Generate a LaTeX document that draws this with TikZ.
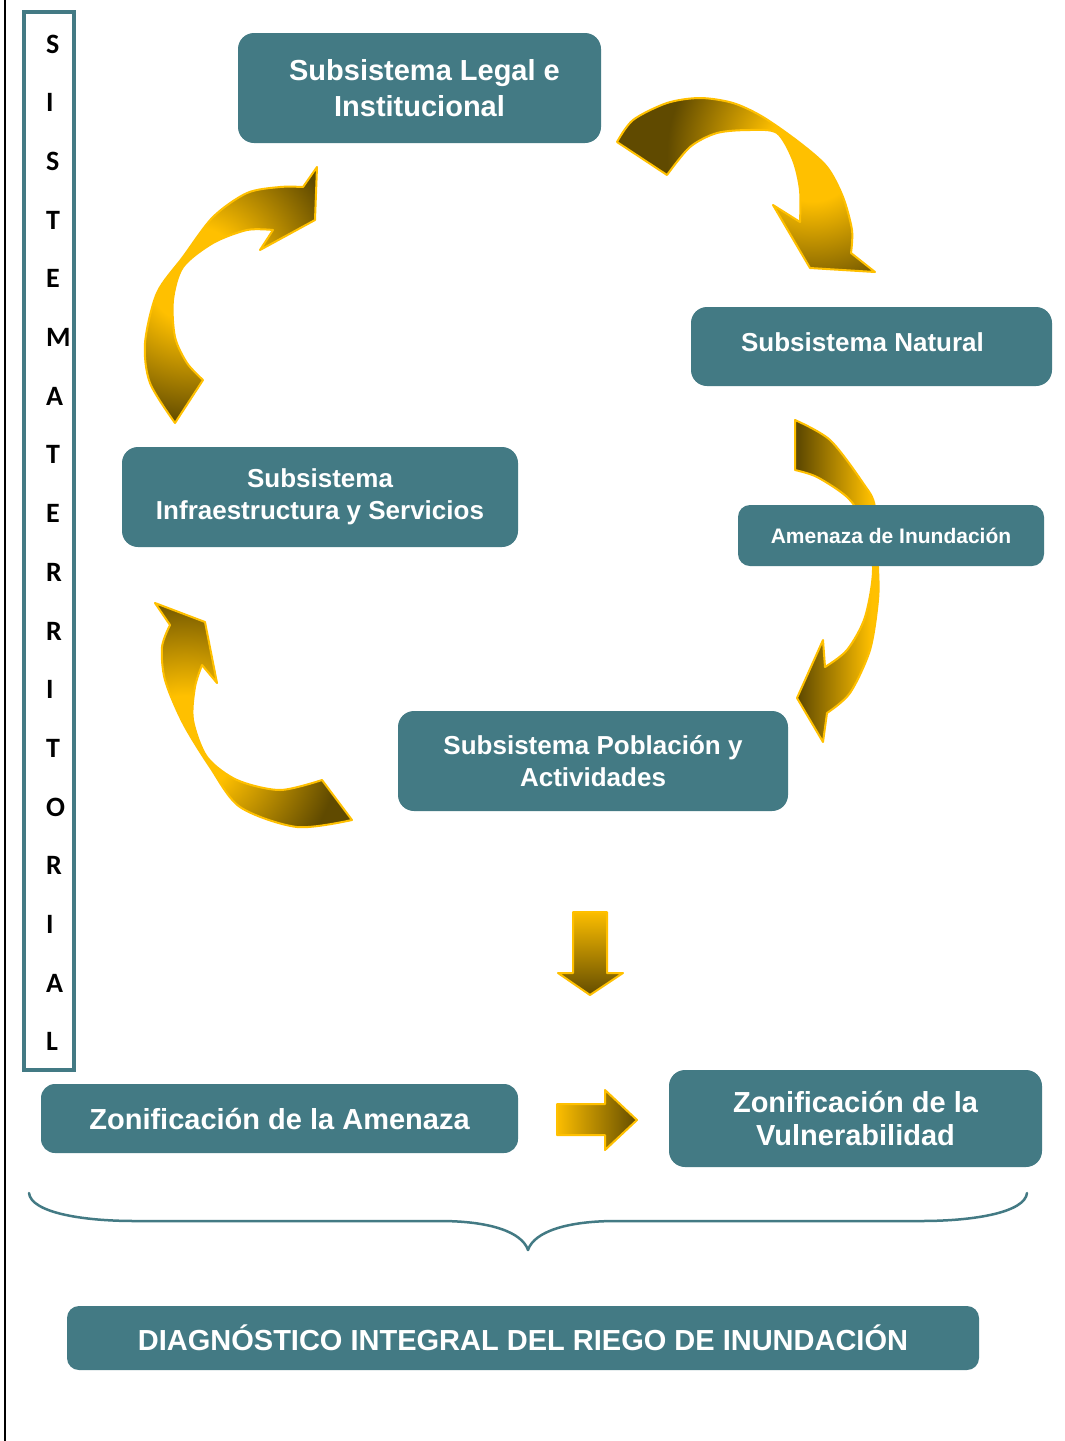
\documentclass[tikz,border=0pt]{standalone}
\usepackage{fontspec}
\setmainfont{Liberation Sans}
\newfontfamily\carlito{Carlito}
\definecolor{boxteal}{HTML}{437A84}
\definecolor{arrowgold}{HTML}{FFC000}
\definecolor{arrowdark}{RGB}{96,74,0}
\pgfdeclareradialshading{goldrad}{\pgfpoint{0bp}{0bp}}{color(0bp)=(arrowgold); color(4bp)=(arrowgold); color(12.5bp)=(arrowdark); color(50bp)=(arrowdark)}
\pgfdeclarehorizontalshading{darkgoldh}{100bp}{color(0bp)=(arrowdark); color(36bp)=(arrowdark); color(64bp)=(arrowgold); color(100bp)=(arrowgold)}
\begin{document}
\begin{tikzpicture}[x=1pt,y=-1pt,
  box/.style={fill=boxteal, rounded corners=16pt, text=white, align=center, inner sep=0pt},
  goldarrow/.style={draw=arrowgold, line width=2pt, line join=round},
  vletter/.style={anchor=west, inner sep=0pt, font=\carlito\bfseries\fontsize{28}{28}\selectfont},
]
\useasboundingbox (0,0) rectangle (1065,1441);
\fill[white] (0,0) rectangle (1065,1441);

% black vertical line at the left edge
\draw[line width=2.5pt] (5,0) -- (5,1441);

% vertical SISTEMA TERRITORIAL box
\draw[boxteal, line width=3.3pt, fill=white] (24,12) rectangle (74,1070);
\foreach \l [count=\i from 0] in {S,I,S,T,E,M,A,T,E,R,R,I,T,O,R,I,A,L}
  \node[vletter] (v\i) at (46,{44+58.7*\i}) {\l};

% ---- curved arrows ----
% Legal -> Natural
\draw[goldarrow, path picture={\shade[shading=goldrad] (812,155) circle (290pt);}]
 (617,142) -- plot[smooth] coordinates {(617,142) (633,120) (667,103) (700,98) (733,103) (763,117) (800,143) (827,167) (843,197) (852,230) (851,253)}
 -- (875,272) -- (810,268) -- (773,205) -- (800,222)
 -- plot[smooth] coordinates {(800,222) (800,190) (793,160) (777,133) (750,130) (717,133) (690,147) (667,175)}
 -- cycle;

% Natural -> Poblacion (behind Amenaza box)
\draw[goldarrow, path picture={\shade[shading=darkgoldh] (770,410) rectangle (900,750);}]
 (795,420) -- plot[smooth] coordinates {(795,420) (830,440) (863,483) (875,507) (878,567) (878,600) (870,650) (850,693) (827,713)}
 -- (823,742) -- (797,698) -- (823,640) -- (825,667)
 -- plot[smooth] coordinates {(825,667) (847,650) (865,617) (873,567) (862,520) (847,497) (817,477) (795,470)}
 -- cycle;

% Poblacion -> Infraestructura
\draw[goldarrow, path picture={\shade[shading=goldrad] (185,745) circle (310pt);}]
 (352,820) -- plot[smooth] coordinates {(352,820) (297,827) (240,807) (210,767) (183,723) (165,680) (162,647) (170,625)}
 -- (155,603) -- (205,622) -- (217,683) -- (202,665)
 -- plot[smooth] coordinates {(202,665) (195,687) (193,720) (207,757) (237,780) (280,790) (322,780)}
 -- cycle;

% Infraestructura -> Legal
\draw[goldarrow, path picture={\shade[shading=goldrad] (195,275) circle (300pt);}]
 (175,423) -- plot[smooth] coordinates {(175,423) (150,383) (145,343) (157,293) (183,257) (213,217) (247,193) (280,187) (303,187)}
 -- (317,167) -- (315,220) -- (260,250) -- (273,230)
 -- plot[smooth] coordinates {(273,230) (247,230) (213,243) (183,267) (173,300) (175,337) (187,363) (203,380)}
 -- cycle;

% ---- straight arrows ----
\draw[goldarrow, path picture={\shade[top color=arrowgold, bottom color=arrowdark] (550,910) rectangle (630,997);}]
 (573,912) -- (607,912) -- (607,973) -- (623,973) -- (590,995) -- (558,973) -- (573,973) -- cycle;
\draw[goldarrow, path picture={\shade[left color=arrowgold, right color=arrowdark] (555,1085) rectangle (639,1155);}]
 (557,1104) -- (605,1104) -- (605,1090) -- (637,1120) -- (605,1150) -- (605,1135) -- (557,1135) -- cycle;

% ---- boxes ----
\node[box, minimum width=363pt, minimum height=110pt, font=\bfseries\fontsize{29}{36}\selectfont] (legal) at (419.5,88)
  {\hspace*{10pt}Subsistema Legal e\\Institucional};
\node[box, minimum width=361pt, minimum height=79pt, font=\bfseries\fontsize{26}{32}\selectfont] (natural) at (871.5,346.5)
  {\raisebox{8pt}{Subsistema Natural\hspace*{18pt}}};
\node[box, minimum width=396pt, minimum height=100pt, font=\bfseries\fontsize{26}{32}\selectfont] (infra) at (320,497)
  {Subsistema\\Infraestructura y Servicios};
\node[box, rounded corners=12pt, minimum width=306pt, minimum height=61pt, font=\bfseries\fontsize{21}{25}\selectfont] (amenaza) at (891,535.5)
  {Amenaza de Inundación};
\node[box, minimum width=390pt, minimum height=100pt, font=\bfseries\fontsize{26}{32}\selectfont] (poblacion) at (593,761)
  {Subsistema Población y\\Actividades};
\node[box, rounded corners=14pt, minimum width=477pt, minimum height=69pt, font=\bfseries\fontsize{29}{33}\selectfont] (zonA) at (279.5,1118.5)
  {Zonificación de la Amenaza};
\node[box, minimum width=373pt, minimum height=97pt, font=\bfseries\fontsize{29}{33}\selectfont] (zonV) at (855.5,1118.5)
  {Zonificación de la\\Vulnerabilidad};
\node[box, rounded corners=12pt, minimum width=912pt, minimum height=64pt, font=\bfseries\fontsize{29}{33}\selectfont] (diag) at (523,1338)
  {DIAGNÓSTICO INTEGRAL DEL RIEGO DE INUNDACIÓN};

% ---- brace ----
\draw[boxteal, line width=2.5pt, line cap=round, line join=round]
  (29,1193) .. controls (31,1212) and (80,1221) .. (135,1221) -- (440,1221)
  .. controls (490,1221) and (522,1232) .. (528,1250)
  .. controls (534,1232) and (566,1221) .. (616,1221) -- (921,1221)
  .. controls (976,1221) and (1025,1212) .. (1027,1193);
\end{tikzpicture}
\end{document}
